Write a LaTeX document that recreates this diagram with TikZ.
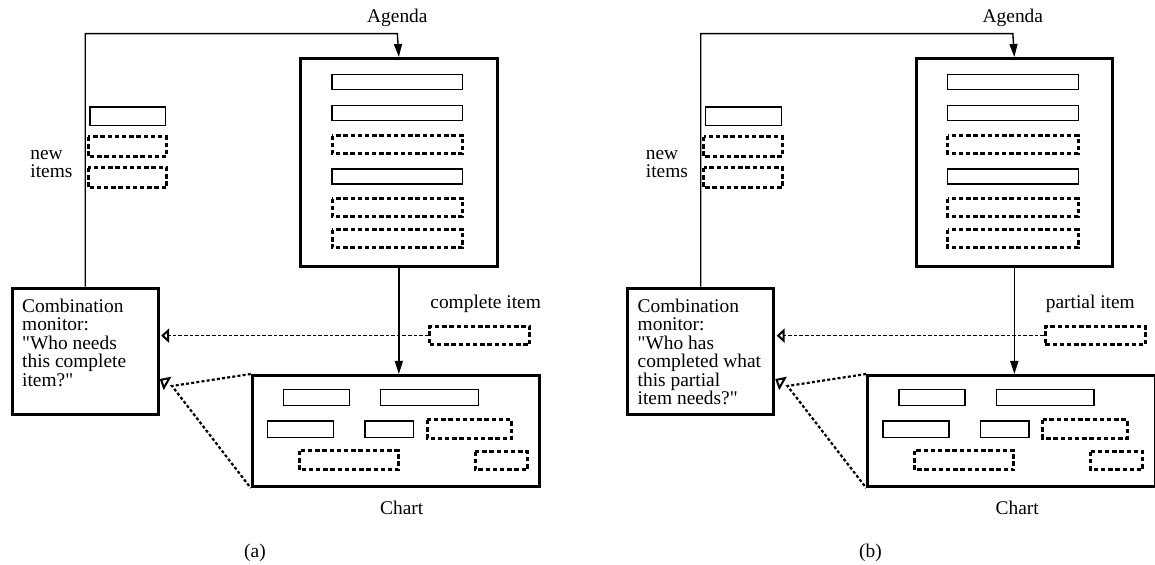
\documentclass[tikz,border=0pt]{standalone}
\usepackage{fontspec}
\setmainfont{Liberation Serif}[Ligatures=TeXOff]
\usetikzlibrary{arrows.meta}
\tikzset{
  bigbox/.style={draw, line width=1.5pt, inner sep=0pt},
  itemline/.style={draw, line width=0.7pt},
  itemdots/.style={draw, line width=1.5pt, dash pattern=on 2.2pt off 1.4pt},
  thinline/.style={line width=0.7pt},
  watch/.style={line width=0.75pt, dash pattern=on 1.8pt off 1pt},
  cone/.style={line width=1.1pt, dash pattern=on 1.5pt off 1.1pt},
  eyetip/.style={line width=0.8pt, -{Triangle[open, length=4.5pt, width=7.5pt, line width=1pt]}},
  lbl/.style={inner sep=0pt},
}
\begin{document}
\begin{tikzpicture}[x=0.5pt, y=-0.5pt, >={Triangle[length=6.5pt, width=4pt]},
    font=\fontsize{9.7}{9.2}\selectfont]
  \useasboundingbox (0,0) rectangle (1155,565);

  % 两个面板 (a) 和 (b)
  \foreach \dx/\p/\itemname/\question in {
      0/a/complete item/{Combination\\monitor:\\"Who needs\\this complete\\item?"},
      615.5/b/partial item/{Combination\\monitor:\\"Who has\\completed what\\this partial\\item needs?"}}{
  \begin{scope}[shift={(\dx,0)}]
    % Agenda 框
    \node[bigbox, anchor=north west, minimum width=98.35pt, minimum height=104pt] (agenda-\p) at (299,57) {};
    \node[lbl, anchor=base] (agendalab-\p) at (397.35,23) {Agenda};

    % 议程中的项
    \foreach \y/\s/\h in {82/itemline/7.5, 113.3/itemline/7.5, 144.6/itemdots/8.8,
                          176.5/itemline/7.5, 207.5/itemdots/8.8, 238.8/itemdots/8.8}
      \draw[\s] (332,\y-\h) rectangle (462.7,\y+\h);

    % 新项
    \draw[itemline] (90,107) rectangle (165.7,125.5);
    \draw[itemdots] (88,137) rectangle (166.7,156.7);
    \draw[itemdots] (88,168) rectangle (166.7,188);
    \node[lbl, anchor=north west, align=left] (newlab-\p) at (30,149.5) {new\\items};

    % 组合监视器
    \node[bigbox, anchor=north west, inner xsep=5pt, inner ysep=5.4pt] (mon-\p) at (10.7,286.7)
      {\parbox[t][52.5pt][t]{63pt}{\raggedright\question}};

    % 完整项 / 部分项
    \node[itemdots, anchor=north west, minimum width=50pt, minimum height=9.15pt, inner sep=0pt] (item-\p) at (428.3,325) {};
    \node[lbl, anchor=base west] (itemlab-\p) at (430,308.3) {\itemname};

    % Chart 框
    \node[bigbox, anchor=north west, minimum width=143.65pt, minimum height=55.5pt] (chart-\p) at (250.7,374) {};
    \node[lbl, anchor=base] (chartlab-\p) at (401.7,515) {Chart};

    % Chart 中的项
    \draw[itemline] (283.3,389.3) rectangle (349.3,405.7);
    \draw[itemline] (380.7,389.3) rectangle (478.3,405.7);
    \draw[itemline] (267.3,421) rectangle (333.3,437.3);
    \draw[itemline] (365,421) rectangle (413.3,437.3);
    \draw[itemdots] (427.3,420) rectangle (511.7,438.3);
    \draw[itemdots] (299,451) rectangle (398.3,470);
    \draw[itemdots] (475,451.7) rectangle (527.3,470);

    % 连线
    \coordinate (top-\p) at (397.35,33.7);
    \draw[thinline, ->] (mon-\p.north) |- (top-\p) -- (agenda-\p.north);
    \draw[thinline, ->] (agenda-\p.south) -- (agenda-\p.south |- chart-\p.north);
    \draw[watch, shorten >=0.7pt, -{Triangle[open, length=4pt, width=7pt, line width=1pt]}]
      (item-\p.west) -- (item-\p.west -| mon-\p.east);

    % 视线
    \coordinate (eye-\p) at (172,386);
    \draw[cone] (chart-\p.north west) -- (eye-\p) -- (chart-\p.south west);
    \draw[eyetip, shorten <=3pt] (eye-\p) -- ([yshift=3.5pt]mon-\p.east |- eye-\p);

    % 标题
    \node[lbl] (cap-\p) at (255,553) {(\p)};
  \end{scope}
  }
\end{tikzpicture}
\end{document}
